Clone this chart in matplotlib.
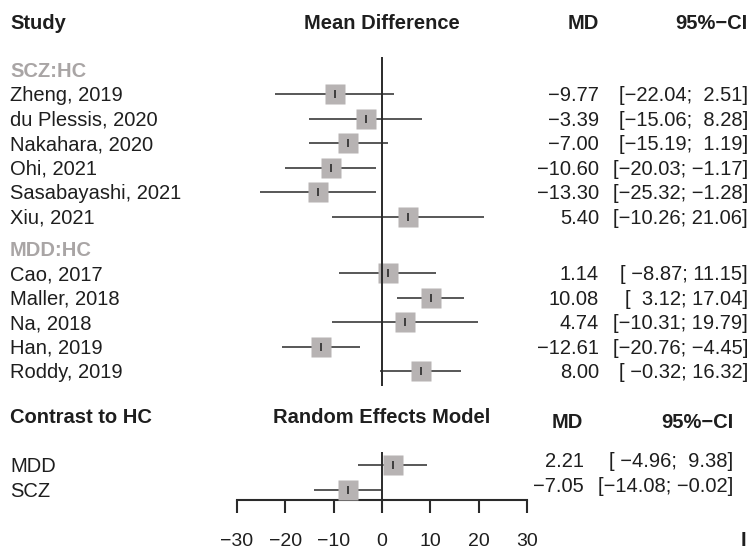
import matplotlib
matplotlib.use("Agg")
import matplotlib.pyplot as plt
from matplotlib.transforms import blended_transform_factory

plt.rcParams['font.family'] = ['Liberation Sans', 'DejaVu Sans']

# ---------------- data ----------------
studies_scz = ["Zheng, 2019", "du Plessis, 2020", "Nakahara, 2020", "Ohi, 2021",
               "Sasabayashi, 2021", "Xiu, 2021"]
md_scz = [-9.77, -3.39, -7.00, -10.60, -13.30, 5.40]
lo_scz = [-22.04, -15.06, -15.19, -20.03, -25.32, -10.26]
hi_scz = [2.51, 8.28, 1.19, -1.17, -1.28, 21.06]

studies_mdd = ["Cao, 2017", "Maller, 2018", "Na, 2018", "Han, 2019", "Roddy, 2019"]
md_mdd = [1.14, 10.08, 4.74, -12.61, 8.00]
lo_mdd = [-8.87, 3.12, -10.31, -20.76, -0.32]
hi_mdd = [11.15, 17.04, 19.79, -4.45, 16.32]

pooled_labels = ["MDD", "SCZ"]
md_pooled = [2.21, -7.05]
lo_pooled = [-4.96, -14.08]
hi_pooled = [9.38, -0.02]

group_labels = ["SCZ:HC", "MDD:HC"]
x_ticks = [-30, -20, -10, 0, 10, 20, 30]

# ---------------- style ----------------
W, H = 750, 549
FS = 14.5
TXT = '#1e1e1e'
LINE = '#2a2a2a'
SQ = '#b7b3b3'
GREY = '#a9a5a5'

fig = plt.figure(figsize=(W / 100, H / 100), dpi=100)
ax = fig.add_axes([237 / W, 49 / H, 290 / W, 500 / H])
ax.set_xlim(-30, 30)
ax.set_ylim(500, 0)
ax.patch.set_visible(False)
for s in ['top', 'left', 'right']:
    ax.spines[s].set_visible(False)
ax.spines['bottom'].set_bounds(-30, 30)
ax.spines['bottom'].set_linewidth(1.5)
ax.spines['bottom'].set_color(LINE)
ax.set_xticks(x_ticks)
ax.set_yticks([])
ax.tick_params(axis='x', length=9.5, width=1.5, color=LINE, pad=14,
               labelsize=14, labelcolor=TXT)

tr = blended_transform_factory(fig.transFigure, ax.transData)


def put(xpx, y, s, ha='left', bold=False, color=TXT, size=FS):
    fig.text(xpx / W, y + 7.2, s, transform=tr, ha=ha, va='baseline',
             fontsize=size, fontweight='bold' if bold else 'normal', color=color)


def fmt_col(vals, width=None):
    strs = [f"{v:.2f}" for v in vals]
    w = width or max(len(s) for s in strs)
    return [s.rjust(w).replace('-', '\u2212') for s in strs]


def draw_rows(ys, md, lo, hi):
    ax.hlines(ys, lo, hi, color=LINE, lw=1.1, zorder=2)
    ax.plot(md, ys, 's', ms=13.7, mfc=SQ, mec='none', zorder=3)
    ax.plot(md, ys, '|', ms=6, mew=1.2, color=LINE, zorder=4)


# ---------------- layout (row positions, px from top) ----------------
step = 24.5
y_scz = [94 + i * step for i in range(len(studies_scz))]
y_mdd = [273 + i * step for i in range(len(studies_mdd))]
y_pool = [465 + i * step for i in range(len(pooled_labels))]

# headers
put(10, 22, "Study", bold=True)
put(382, 22, "Mean Difference", ha='center', bold=True)
put(599, 22, "MD", ha='right', bold=True)
put(748, 22, "95%\u2212CI", ha='right', bold=True)
put(10, 70, group_labels[0], bold=True, color=GREY)
put(10, 249, group_labels[1], bold=True, color=GREY)

# study CI strings (formatted together)
all_md = md_scz + md_mdd
all_lo = lo_scz + lo_mdd
all_hi = hi_scz + hi_mdd
md_s = fmt_col(all_md)
lo_s = fmt_col(all_lo)
hi_s = fmt_col(all_hi)
all_names = studies_scz + studies_mdd
all_y = y_scz + y_mdd
for name, y, m, l, h in zip(all_names, all_y, md_s, lo_s, hi_s):
    put(10, y, name)
    put(599, y, m.strip(), ha='right')
    put(748, y, f"[{l}; {h}]", ha='right')

draw_rows(y_scz, md_scz, lo_scz, hi_scz)
draw_rows(y_mdd, md_mdd, lo_mdd, hi_mdd)
ax.vlines(0, 57, 386, color=LINE, lw=1.4, zorder=5)

# pooled section
put(10, 416, "Contrast to HC", bold=True)
put(382, 416, "Random Effects Model", ha='center', bold=True)
put(583, 421, "MD", ha='right', bold=True)
put(733, 421, "95%\u2212CI", ha='right', bold=True)
pm = fmt_col(md_pooled)
pl = fmt_col(lo_pooled)
ph = fmt_col(hi_pooled)
for name, y, m, l, h in zip(pooled_labels, y_pool, pm, pl, ph):
    put(10, y, name)
    put(584, y - 5, m.strip(), ha='right')
    put(733, y - 5, f"[{l}; {h}]", ha='right')

draw_rows(y_pool, md_pooled, lo_pooled, hi_pooled)
ax.vlines(0, 452, 500, color=LINE, lw=1.4, zorder=5)

# small glyph at lower right edge
fig.text(741 / W, 1 - 546 / H, "I", ha='left', va='baseline', fontsize=FS,
         fontweight='bold', color=TXT)

fig.savefig("out.png", dpi=100)
